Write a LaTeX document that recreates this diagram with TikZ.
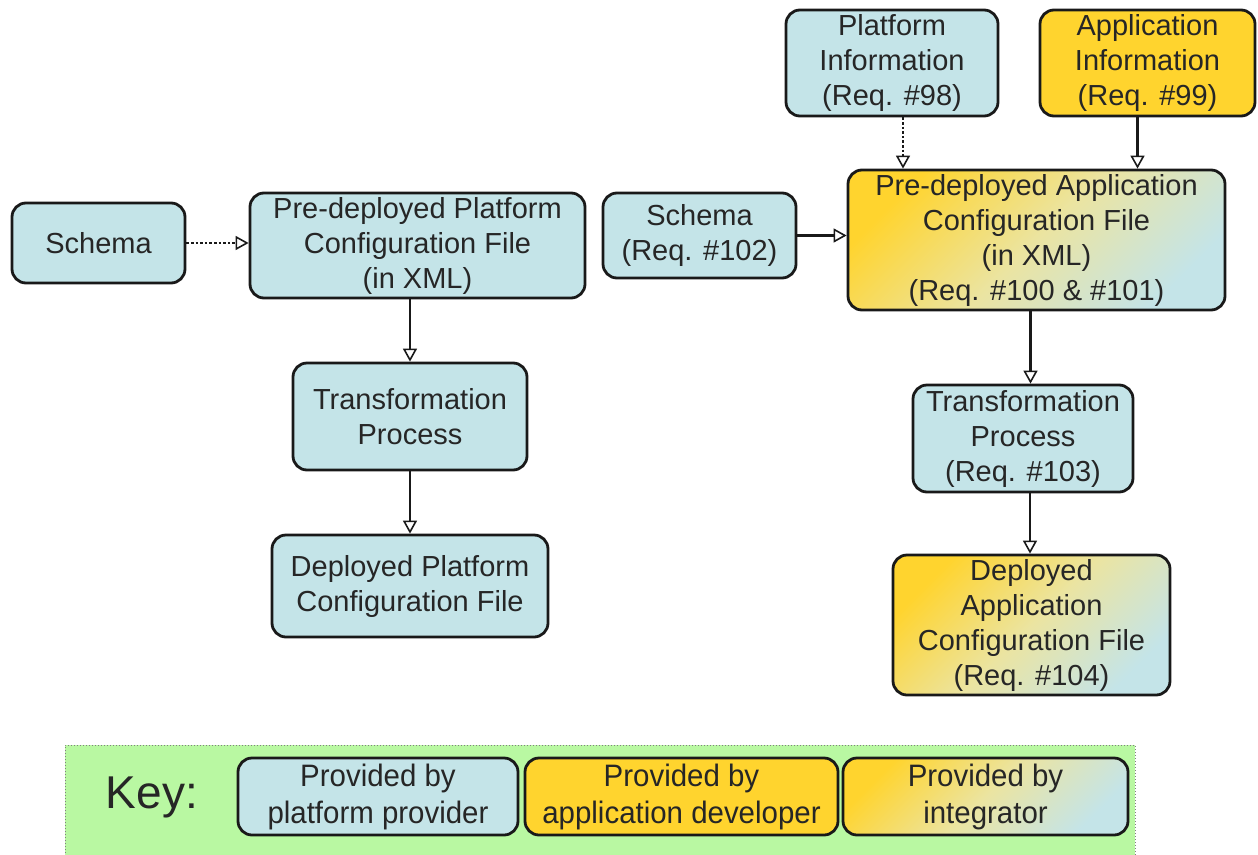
\documentclass[tikz,border=0pt]{standalone}
\usepackage{fontspec}
\setmainfont{Liberation Sans}
\usetikzlibrary{arrows.meta}
\definecolor{pblue}{HTML}{C4E4E8}
\definecolor{ayel}{HTML}{FFD42E}
\definecolor{keygreen}{HTML}{B9F8A2}
\definecolor{txt}{HTML}{262626}
\tikzset{
  box/.style={draw=black!90, line width=2.8pt, rounded corners=14pt, align=center, text=txt,
    font=\fontsize{29}{35}\selectfont, inner sep=0pt},
  plat/.style={box, fill=pblue},
  appl/.style={box, fill=ayel},
  integ/.style={box, top color=ayel, bottom color=pblue, middle color=pblue!45!ayel!75!white, shading angle=45},
  keybox/.style={font=\fontsize{31}{37}\selectfont\addfontfeatures{FakeStretch=0.95}},
  conn/.style={line width=2.6pt, draw=black!90, -{Triangle[open, length=13pt, width=14pt, line width=1.6pt]}},
  dconn/.style={conn, dotted, line width=1.8pt},
}
\begin{document}
\begin{tikzpicture}[x=1pt, y=-1pt]
\useasboundingbox (0,0) rectangle (1258,854);
% key panel
\fill[keygreen] (65,745) rectangle (1135,856);
\draw[black!50, dotted, line width=1pt] (65,856) -- (65,745) -- (1135,745) -- (1135,856);

% left chain
\node[plat, minimum width=173pt, minimum height=80pt] (s1) at (98.5,243) {Schema};
\node[plat, minimum width=335pt, minimum height=105pt] (pp) at (417.5,245.5) {Pre-deployed Platform\\Configuration File\\(in XML)};
\node[plat, minimum width=234pt, minimum height=107pt] (tp) at (410,416.5) {Transformation\\Process};
\node[plat, minimum width=276pt, minimum height=102pt] (dp) at (410,586) {Deployed Platform\\Configuration File};

% right chain
\node[plat, minimum width=193pt, minimum height=85pt] (s2) at (699.5,235.5) {Schema\\(Req. \#102)};
\node[plat, minimum width=212pt, minimum height=106pt] (pi) at (892,63) {Platform\\Information\\(Req. \#98)};
\node[appl, minimum width=215pt, minimum height=106pt] (ai) at (1147.5,63) {Application\\Information\\(Req. \#99)};
\node[integ, minimum width=377pt, minimum height=140pt] (pa) at (1036.5,240) {Pre-deployed Application\\Configuration File\\(in XML)\\(Req. \#100 \& \#101)};
\node[plat, minimum width=220pt, minimum height=107pt] (tr) at (1023,438.5) {Transformation\\Process\\(Req. \#103)};
\node[integ, minimum width=277pt, minimum height=140pt] (da) at (1031.5,625) {Deployed\\Application\\Configuration File\\(Req. \#104)};

% key
\node[text=txt, font=\fontsize{46}{50}\selectfont] (keylbl) at (152,797) {Key:};
\node[plat, keybox, minimum width=280pt, minimum height=77pt] (k1) at (378,796.5) {Provided by\\platform provider};
\node[appl, keybox, minimum width=313pt, minimum height=77pt] (k2) at (681.5,796.5) {Provided by\\application developer};
\node[integ, keybox, minimum width=285pt, minimum height=77pt] (k3) at (985.5,796.5) {Provided by\\integrator};

% connectors
\draw[dconn] (s1.east) -- (s1.east -| pp.west);
\draw[conn] (tp.north |- pp.south) -- (tp.north);
\draw[conn] (tp.south) -- (tp.south |- dp.north);
\draw[conn] (s2.east) -- (s2.east -| pa.west);
\coordinate (pib) at ([xshift=11pt]pi.south);
\coordinate (aib) at ([xshift=-10pt]ai.south);
\draw[dconn] (pib) -- (pib |- pa.north);
\draw[conn] (aib) -- (aib |- pa.north);
\coordinate (pab) at ([xshift=-6pt]pa.south);
\draw[conn] (pab) -- (pab |- tr.north);
\coordinate (trb) at ([xshift=7pt]tr.south);
\draw[conn] (trb) -- (trb |- da.north);
\end{tikzpicture}
\end{document}
